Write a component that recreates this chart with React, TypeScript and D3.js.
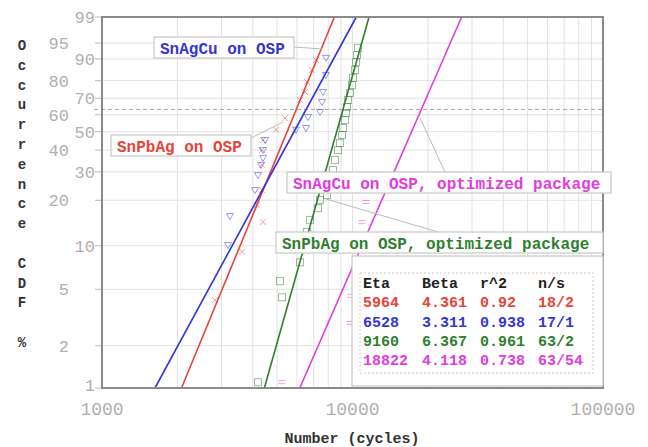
import * as d3 from 'd3';
import React from 'react';

// fitted Weibull parameters (from the stats table)
const seriesNames = ['SnPbAg on OSP', 'SnAgCu on OSP', 'SnPbAg on OSP, optimized package', 'SnAgCu on OSP, optimized package'];
const etas = [5964, 6528, 9160, 18822];
const betas = [4.361, 3.311, 6.367, 4.118];
const rSquared = ['0.92', '0.938', '0.961', '0.738'];
const nOverS = ['18/2', '17/1', '63/2', '63/54'];
const colors = ['#e8443a', '#3535d6', '#2f7f2f', '#e03de0'];

// failure points [cycles, % occurrence]
const redPoints = [[2826, 4.2], [3622, 9.1], [4393, 14.4], [4155, 18.7], [4351, 23.2], [4351, 33.0], [4351, 40.0], [4393, 45.3], [4953, 51.1], [5379, 58.0], [6170, 69.0], [6463, 73.7], [6583, 79.3], [6890, 85.3], [7150, 89.6]];
const bluePoints = [[3184, 10.1], [3243, 15.8], [4080, 23.2], [4196, 28.7], [4312, 33.0], [4393, 36.2], [4393, 40.0], [4477, 45.3], [5945, 51.1], [6520, 52.1], [6643, 58.6], [7420, 61.7], [7558, 67.7], [7628, 73.7], [7834, 82.9], [7834, 90.4]];
const greenPoints = [[4196, 1.1], [5135, 5.7], [5231, 4.4], [6171, 7.7], [6463, 10.1], [6583, 12.4], [6766, 14.9], [7285, 17.8], [7420, 20.1], [7912, 21.6], [8134, 26.8], [8361, 30.8], [8516, 35.2], [8754, 40.0], [8917, 43.7], [9082, 48.1], [9166, 52.1], [9337, 56.8], [9423, 61.1], [9506, 64.7], [9594, 68.9], [9772, 73.1], [9954, 77.6], [10046, 81.4], [10233, 85.3], [10327, 88.8], [10423, 91.4], [10520, 93.7]];
const magentaPoints = [[5231, 1.1], [9772, 2.9], [9864, 4.5], [10520, 7.7], [10814, 10.9], [10912, 14.4], [11320, 19.5], [11748, 24.0]];

const yTicks = [1, 2, 5, 10, 20, 30, 40, 50, 60, 70, 80, 90, 95, 99];
const yTicksShifted = [2, 5, 20, 40, 60, 80, 95];
const xTickLabels = [1000, 10000, 100000];
const yTitle = 'Occurrence CDF %';

const W = 648, H = 447;
const L = 102, R = 603, T = 17, B = 388;
const mono = '"Liberation Mono", "Courier New", monospace';

const weib = (p: number) => Math.log(-Math.log(1 - p / 100));
const x = d3.scaleLog().domain([1000, 100000]).range([L, R]);
const y = d3.scaleLinear().domain([weib(1), weib(99)]).range([B, T]);

const gridX: number[] = [];
for (let d = 1000; d <= 100000; d *= 10) {
  for (let k = 1; k <= 9; k++) if (d * k <= 100000) gridX.push(d * k);
}

function fitLine(eta: number, beta: number) {
  const at = (p: number) => eta * Math.pow(-Math.log(1 - p / 100), 1 / beta);
  const line = d3.line<number>().x(p => x(at(p))).y(p => y(weib(p)));
  return line([1, 99]) as string;
}

function Marker({ kind, cx, cy, color }: { kind: number; cx: number; cy: number; color: string }) {
  const common = { fill: 'none', stroke: color, strokeWidth: 1, opacity: 0.5 };
  if (kind === 0) return <path d={`M${cx - 3},${cy - 3}L${cx + 3},${cy + 3}M${cx + 3},${cy - 3}L${cx - 3},${cy + 3}`} {...common} />;
  if (kind === 1) return <path d={`M${cx - 3.5},${cy - 2.5}L${cx + 3.5},${cy - 2.5}L${cx},${cy + 3.5}Z`} {...common} />;
  if (kind === 2) return <rect x={cx - 3.5} y={cy - 3.5} width={7} height={7} {...common} />;
  return <path d={`M${cx - 3.5},${cy - 1.5}L${cx + 3.5},${cy - 1.5}M${cx - 3.5},${cy + 1.5}L${cx + 3.5},${cy + 1.5}`} {...common} />;
}

const allPoints = [redPoints, bluePoints, greenPoints, magentaPoints];

// label boxes with leader lines
const labels = [
  { s: 1, bx: 154, by: 37, bw: 140, from: [294, 47], to: [322, 49] },
  { s: 0, bx: 111, by: 135, bw: 140, from: [251, 138], to: [283, 122] },
  { s: 3, bx: 287, by: 172, bw: 324, from: [445, 172], to: [420, 118] },
  { s: 2, bx: 276, by: 232, bw: 327, from: [438, 232], to: [326, 199] },
];
const colX = [363, 422, 480, 538];

export default function App() {
  return (
    <svg width={W} height={H} style={{ position: 'absolute', left: 0, top: 0, background: '#fff' }}>
      <rect width={W} height={H} fill="#fff" />
      {/* grid */}
      {gridX.map(v => (
        <line key={'gx' + v} x1={x(v)} x2={x(v)} y1={T} y2={B} stroke="#e2e2e2" strokeWidth={1} />
      ))}
      {yTicks.map(p => (
        <line key={'gy' + p} x1={L} x2={R} y1={y(weib(p))} y2={y(weib(p))} stroke="#e2e2e2" strokeWidth={1} />
      ))}
      {yTicks.map(p => (
        <line key={'ty' + p} x1={L - 7} x2={L} y1={y(weib(p))} y2={y(weib(p))} stroke="#bbb" strokeWidth={1} />
      ))}
      {/* characteristic life line, 63.2% */}
      <line x1={L - 8} x2={R} y1={y(0)} y2={y(0)} stroke="#aaa" strokeWidth={1} strokeDasharray="4,3" />

      {/* failure points */}
      {allPoints.map((pts, i) =>
        pts.map((d, j) => <Marker key={i + '-' + j} kind={i} cx={x(d[0])} cy={y(weib(d[1]))} color={colors[i]} />)
      )}

      {/* fitted lines */}
      {etas.map((eta, i) => (
        <path key={'fit' + i} d={fitLine(eta, betas[i])} fill="none" stroke={colors[i]} strokeWidth={1.6} />
      ))}

      {/* frame */}
      <rect x={L} y={T} width={R - L} height={B - T} fill="none" stroke="#8a8a8a" strokeWidth={2} />

      {/* y tick labels */}
      {yTicks.map(p => (
        <text key={'yl' + p} x={yTicksShifted.includes(p) ? 69 : 95} y={p === 1 ? y(weib(p)) - 3 : y(weib(p))} dy="0.35em" textAnchor="end"
          fontFamily={mono} fontSize={17} fill="#b0b0b0">{p}</text>
      ))}
      {/* x tick labels */}
      {xTickLabels.map(v => (
        <text key={'xl' + v} x={x(v)} y={409} dy="0.35em" textAnchor="middle" fontFamily={mono} fontSize={18} fill="#b0b0b0">{v}</text>
      ))}

      {/* axis titles */}
      <text x={352} y={438} dy="0.35em" textAnchor="middle" fontFamily={mono} fontSize={15} fontWeight="bold" fill="#333">Number (cycles)</text>
      {yTitle.split('').map((c, i) => (
        <text key={'yt' + i} x={22} y={45 + i * 19.8} dy="0.35em" textAnchor="middle" fontFamily={mono} fontSize={14} fontWeight="bold" fill="#333">{c}</text>
      ))}

      {/* labels with leaders */}
      {labels.map(l => (
        <g key={'lab' + l.s}>
          <line x1={l.from[0]} y1={l.from[1]} x2={l.to[0]} y2={l.to[1]} stroke="#bbb" strokeWidth={1} />
          <rect x={l.bx} y={l.by} width={l.bw} height={21} fill="#fff" stroke="#c8c8c8" strokeWidth={1.2} />
          <text x={l.bx + 6} y={l.by + 11} dy="0.35em" fontFamily={mono} fontSize={16} fontWeight="bold" fill={colors[l.s]}>{seriesNames[l.s]}</text>
        </g>
      ))}

      {/* stats table */}
      <rect x={352} y={256} width={251} height={130} fill="#fff" stroke="#c8c8c8" strokeWidth={1.2} />
      <rect x={360} y={273} width={233} height={100} fill="none" stroke="#ccc" strokeWidth={1} strokeDasharray="2,2" />
      {['Eta', 'Beta', 'r^2', 'n/s'].map((h, k) => (
        <text key={'h' + k} x={colX[k]} y={283} dy="0.35em" fontFamily={mono} fontSize={15} fontWeight="bold" fill="#222">{h}</text>
      ))}
      {[0, 1, 2, 3].map(i => {
        const row = [String(etas[i]), betas[i].toFixed(3), rSquared[i], nOverS[i]];
        return row.map((c, k) => (
          <text key={'r' + i + k} x={colX[k]} y={302 + i * 19.3} dy="0.35em" fontFamily={mono} fontSize={15} fontWeight="bold" fill={colors[i]}>{c}</text>
        ));
      })}
    </svg>
  );
}
